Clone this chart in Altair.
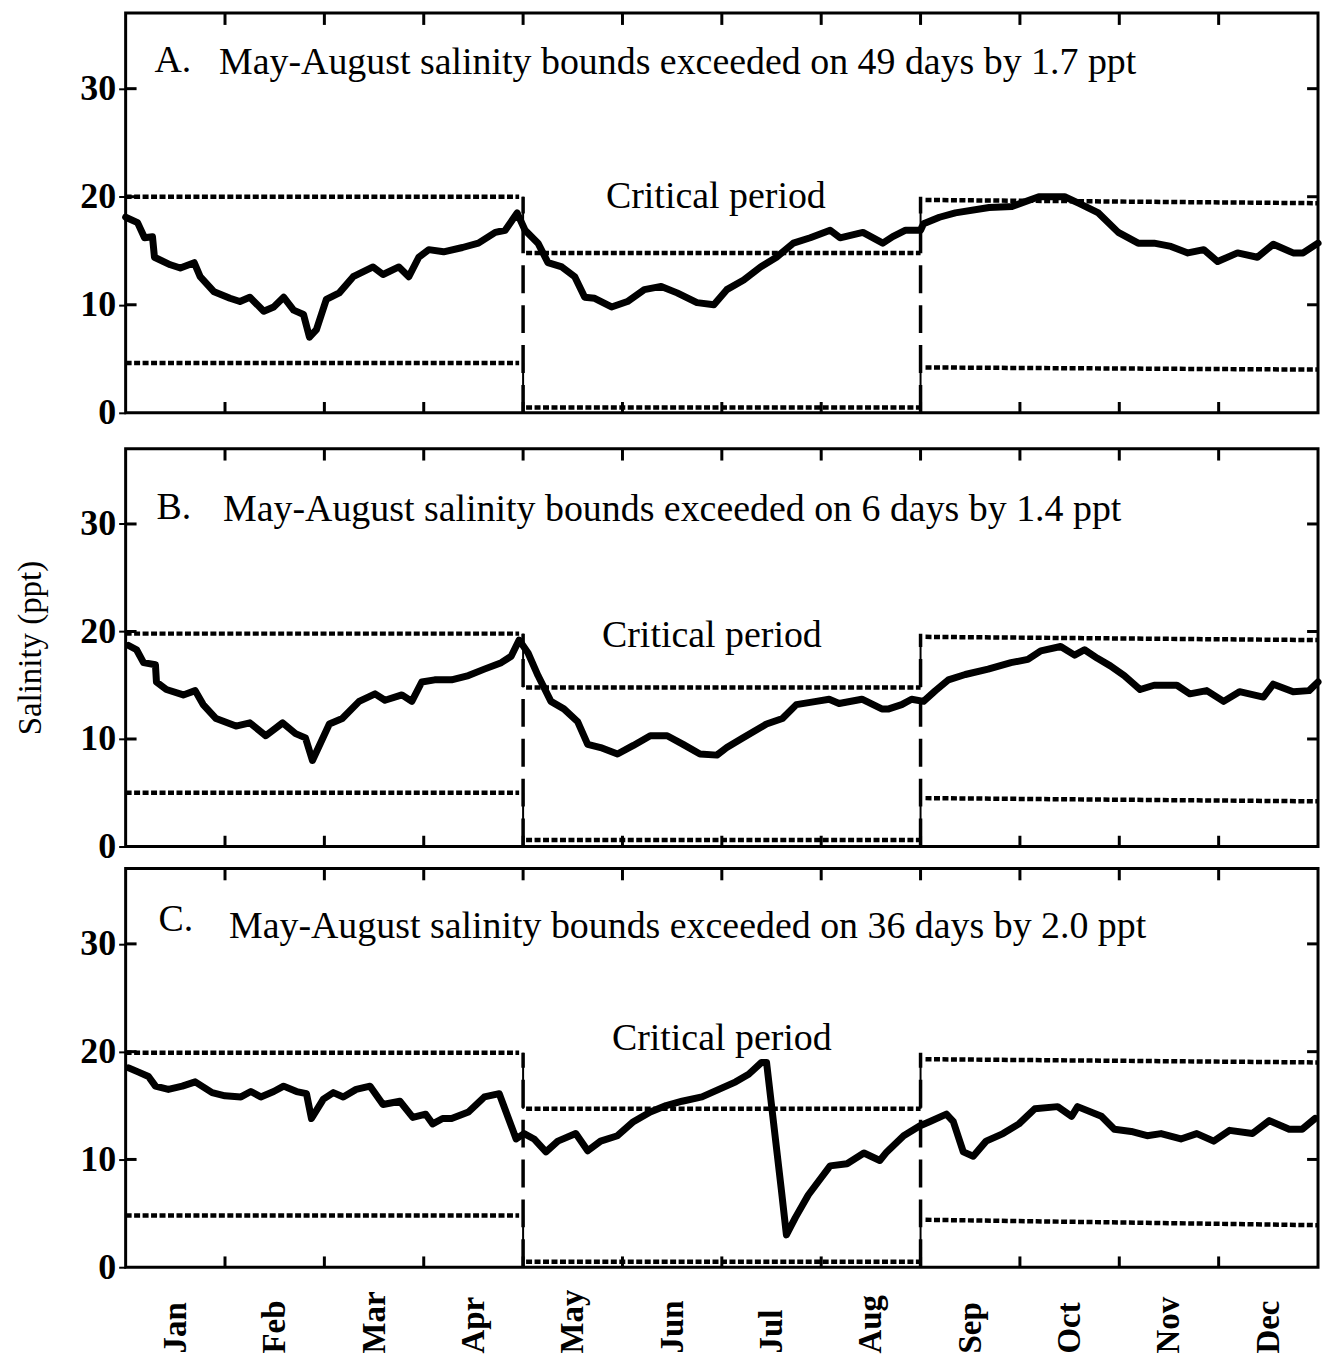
import json
import altair as alt
import pandas as pd

# ---------------- data ----------------
MONTHS = ["Jan", "Feb", "Mar", "Apr", "May", "Jun", "Jul", "Aug", "Sep", "Oct", "Nov", "Dec"]
MONTH_CENTERS = [0.5, 1.5, 2.5, 3.5, 4.5, 5.5, 6.5, 7.5, 8.5, 9.5, 10.5, 11.5]
MONTH_BOUNDARIES = [1, 2, 3, 4, 5, 6, 7, 8, 9, 10, 11]
Y_TICKS = [0, 10, 20, 30]
INNER_Y_TICKS = [10, 20, 30]
CRITICAL_START = 4
CRITICAL_END = 8

# x = months since 1 Jan, y = salinity (ppt)
A_X = [0.0, 0.12, 0.19, 0.27, 0.29, 0.45, 0.55, 0.69, 0.75, 0.89, 1.05, 1.15, 1.25, 1.39, 1.49,
       1.59, 1.69, 1.79, 1.85, 1.92, 2.02, 2.15, 2.29, 2.49, 2.59, 2.75, 2.85, 2.95, 3.05, 3.2,
       3.39, 3.55, 3.72, 3.82, 3.94, 4.02, 4.15, 4.25, 4.39, 4.52, 4.62, 4.72, 4.89, 5.05, 5.22,
       5.39, 5.55, 5.75, 5.92, 6.05, 6.22, 6.39, 6.55, 6.72, 6.89, 7.09, 7.19, 7.42, 7.62, 7.72,
       7.85, 8.0, 8.03, 8.19, 8.35, 8.69, 8.92, 9.19, 9.45, 9.59, 9.79, 9.99, 10.19, 10.35, 10.52,
       10.69, 10.85, 10.99, 11.19, 11.39, 11.55, 11.75, 11.85, 12.0]
A_Y = [18.1, 17.6, 16.2, 16.3, 14.4, 13.7, 13.4, 13.9, 12.6, 11.2, 10.6, 10.3, 10.7, 9.4, 9.8,
       10.7, 9.5, 9.1, 7.0, 7.7, 10.5, 11.1, 12.6, 13.5, 12.8, 13.5, 12.6, 14.4, 15.1, 14.9,
       15.3, 15.7, 16.7, 16.9, 18.5, 16.9, 15.7, 13.9, 13.5, 12.6, 10.7, 10.6, 9.8, 10.3, 11.4,
       11.7, 11.1, 10.2, 10.0, 11.4, 12.3, 13.5, 14.4, 15.7, 16.2, 16.9, 16.2, 16.7, 15.7, 16.3,
       16.9, 16.9, 17.5, 18.1, 18.5, 19.0, 19.1, 20.0, 20.0, 19.4, 18.5, 16.7, 15.7, 15.7, 15.4,
       14.8, 15.1, 14.0, 14.8, 14.4, 15.6, 14.8, 14.8, 15.7]

B_X = [0.03, 0.11, 0.18, 0.30, 0.31, 0.41, 0.58, 0.70, 0.78, 0.91, 1.11, 1.25, 1.41, 1.58, 1.71,
       1.81, 1.88, 2.05, 2.18, 2.35, 2.51, 2.61, 2.78, 2.88, 2.98, 3.11, 3.28, 3.45, 3.61, 3.78,
       3.88, 3.96, 4.05, 4.15, 4.28, 4.41, 4.55, 4.65, 4.78, 4.95, 5.11, 5.28, 5.45, 5.61, 5.78,
       5.95, 6.05, 6.21, 6.45, 6.61, 6.75, 6.95, 7.08, 7.18, 7.41, 7.61, 7.68, 7.81, 7.91, 8.03,
       8.15, 8.28, 8.45, 8.68, 8.91, 9.08, 9.21, 9.41, 9.55, 9.65, 9.78, 9.91, 10.05, 10.21, 10.35,
       10.58, 10.71, 10.88, 11.05, 11.21, 11.45, 11.55, 11.75, 11.91, 12.0]
B_Y = [18.7, 18.3, 17.1, 16.9, 15.3, 14.6, 14.1, 14.5, 13.2, 11.9, 11.2, 11.5, 10.3, 11.5, 10.5,
       10.1, 8.0, 11.4, 11.9, 13.5, 14.2, 13.6, 14.1, 13.5, 15.3, 15.5, 15.5, 15.9, 16.5, 17.1,
       17.7, 19.2, 18.0, 15.9, 13.5, 12.8, 11.6, 9.5, 9.2, 8.6, 9.4, 10.3, 10.3, 9.5, 8.6,
       8.5, 9.2, 10.1, 11.4, 11.9, 13.2, 13.5, 13.7, 13.3, 13.7, 12.8, 12.8, 13.2, 13.7, 13.5,
       14.5, 15.5, 16.0, 16.5, 17.1, 17.4, 18.2, 18.6, 17.8, 18.3, 17.5, 16.8, 15.9, 14.6, 15.0,
       15.0, 14.2, 14.5, 13.5, 14.4, 13.9, 15.1, 14.4, 14.5, 15.3]

C_X = [0.03, 0.13, 0.23, 0.30, 0.43, 0.57, 0.70, 0.87, 1.0, 1.16, 1.26, 1.36, 1.49, 1.59, 1.72,
       1.82, 1.87, 1.99, 2.09, 2.19, 2.32, 2.46, 2.59, 2.76, 2.89, 3.02, 3.09, 3.19, 3.28, 3.45,
       3.61, 3.76, 3.93, 4.01, 4.11, 4.23, 4.35, 4.53, 4.65, 4.78, 4.95, 5.11, 5.28, 5.44, 5.60,
       5.80, 5.97, 6.14, 6.27, 6.40, 6.45, 6.60, 6.65, 6.74, 6.87, 7.00, 7.09, 7.26, 7.43, 7.59,
       7.66, 7.83, 7.99, 8.09, 8.26, 8.33, 8.43, 8.53, 8.66, 8.83, 8.99, 9.15, 9.38, 9.52, 9.58,
       9.82, 9.95, 10.12, 10.28, 10.42, 10.62, 10.78, 10.95, 11.11, 11.34, 11.51, 11.71, 11.84, 11.97]
C_Y = [18.5, 18.1, 17.7, 16.8, 16.5, 16.8, 17.2, 16.2, 15.9, 15.8, 16.3, 15.8, 16.3, 16.8, 16.3,
       16.1, 13.8, 15.6, 16.2, 15.8, 16.5, 16.8, 15.1, 15.4, 13.9, 14.2, 13.3, 13.8, 13.8, 14.4,
       15.8, 16.1, 11.9, 12.4, 11.9, 10.7, 11.7, 12.4, 10.8, 11.7, 12.2, 13.5, 14.4, 15.0, 15.4,
       15.8, 16.5, 17.2, 17.9, 19.0, 19.0, 7.1, 3.0, 4.6, 6.7, 8.3, 9.4, 9.6, 10.6, 9.9,
       10.7, 12.2, 13.1, 13.5, 14.2, 13.5, 10.7, 10.3, 11.7, 12.4, 13.3, 14.7, 14.9, 14.0, 14.9,
       14.0, 12.8, 12.6, 12.2, 12.4, 11.9, 12.4, 11.7, 12.7, 12.4, 13.6, 12.8, 12.8, 13.8]

# salinity bounds per period (Jan-Apr, May-Aug, Sep-Dec): value at start and end of period
PERIOD_START = [0.0, 4.03, 8.05]
PERIOD_END = [3.96, 8.0, 12.0]
A_UPPER_START = [20.0, 14.8, 19.7]
A_UPPER_END = [20.0, 14.8, 19.4]
A_LOWER_START = [4.6, 0.5, 4.2]
A_LOWER_END = [4.6, 0.5, 4.0]
B_UPPER_START = [19.8, 14.8, 19.5]
B_UPPER_END = [19.8, 14.8, 19.2]
B_LOWER_START = [5.0, 0.6, 4.5]
B_LOWER_END = [5.0, 0.6, 4.2]
C_UPPER_START = [19.9, 14.7, 19.3]
C_UPPER_END = [19.9, 14.7, 19.0]
C_LOWER_START = [4.8, 0.5, 4.4]
C_LOWER_END = [4.8, 0.5, 3.9]

A_LETTER = "A."
B_LETTER = "B."
C_LETTER = "C."
A_TEXT = "May-August salinity bounds exceeded on 49 days by 1.7 ppt"
B_TEXT = "May-August salinity bounds exceeded on 6 days by 1.4 ppt"
C_TEXT = "May-August salinity bounds exceeded on 36 days by 2.0 ppt"
CRIT_TEXT = "Critical period"
Y_TITLE = "Salinity (ppt)"

# annotation anchors (data coordinates)
A_LETTER_POS = (0.29, 31.5)
B_LETTER_POS = (0.31, 30.5)
C_LETTER_POS = (0.33, 31.2)
A_TEXT_POS = (0.94, 31.4)
B_TEXT_POS = (0.98, 30.3)
C_TEXT_POS = (1.04, 30.5)
A_CRIT_POS = (5.94, 19.0)
B_CRIT_POS = (5.90, 18.6)
C_CRIT_POS = (6.0, 20.2)

SERIF = "Liberation Serif"
Y_MAX = 37


def panel(xs, ys, up_s, up_e, lo_s, lo_e, letter, letter_pos, text, text_pos,
          crit_pos, show_title, bottom, height):
    xsc = alt.Scale(domain=[0, 12], nice=False, zero=False)
    ysc = alt.Scale(domain=[0, Y_MAX], nice=False, zero=False)

    if bottom:
        x_axis = alt.Axis(
            values=MONTH_CENTERS,
            labelExpr=json.dumps(MONTHS) + "[floor(datum.value)]",
            labelAngle=-90, labelAlign="left", labelBaseline="middle",
            labelPadding=86, labelFont=SERIF, labelFontSize=33, labelFontWeight="bold",
            labelColor="black", labelOverlap=False, labelFlush=False,
            ticks=False, domain=False, grid=False, title=None,
        )
    else:
        x_axis = None

    y_axis = alt.Axis(
        values=Y_TICKS, format="d", labelFont=SERIF, labelFontSize=36, labelFontWeight="bold",
        labelColor="black", labelPadding=3, ticks=True, tickSize=7, tickWidth=2,
        tickColor="black", domain=False, grid=False, title=Y_TITLE, titleFont=SERIF,
        titleFontSize=33, titleFontWeight="normal", titleColor="black", titlePadding=32,
        titleOpacity=1 if show_title else 0,
    )

    def xe(field):
        return alt.X(field, scale=xsc, axis=x_axis)

    def ye(field):
        return alt.Y(field, scale=ysc, axis=y_axis)

    sal = pd.DataFrame({"m": xs, "s": ys, "i": list(range(len(xs)))})
    line = alt.Chart(sal).mark_line(
        color="black", strokeWidth=7, strokeJoin="round", strokeCap="round"
    ).encode(x=xe("m:Q"), y=ye("s:Q"), order="i:Q")

    rows = []
    for k in range(3):
        rows.append({"x0": PERIOD_START[k], "x1": PERIOD_END[k], "y0": up_s[k], "y1": up_e[k]})
        rows.append({"x0": PERIOD_START[k], "x1": PERIOD_END[k], "y0": lo_s[k], "y1": lo_e[k]})
    bounds = alt.Chart(pd.DataFrame(rows)).mark_rule(
        color="black", strokeWidth=4.5, strokeDash=[6, 2.5]
    ).encode(x=xe("x0:Q"), x2="x1:Q", y=ye("y0:Q"), y2="y1:Q")

    conn_rows = []
    for k, bx in enumerate([CRITICAL_START, CRITICAL_END]):
        conn_rows.append({"x": bx, "y0": up_e[k], "y1": up_s[k + 1]})
        conn_rows.append({"x": bx, "y0": lo_e[k], "y1": lo_s[k + 1]})
    conn = alt.Chart(pd.DataFrame(conn_rows)).mark_rule(color="black", strokeWidth=2).encode(
        x=xe("x:Q"), y=ye("y0:Q"), y2="y1:Q"
    )

    crit = alt.Chart(pd.DataFrame({
        "x": [CRITICAL_START, CRITICAL_END], "y0": [0, 0], "y1": [up_s[0], up_s[0]]
    })).mark_rule(color="black", strokeWidth=3.5, strokeDash=[28, 12]).encode(
        x=xe("x:Q"), y=ye("y0:Q"), y2="y1:Q"
    )

    tick_rows = []
    for b in MONTH_BOUNDARIES:
        tick_rows.append({"x0": b, "x1": b, "y0": 0, "y1": 1.0})
        tick_rows.append({"x0": b, "x1": b, "y0": Y_MAX - 1.1, "y1": Y_MAX})
    for t in INNER_Y_TICKS:
        tick_rows.append({"x0": 0, "x1": 0.11, "y0": t, "y1": t})
        tick_rows.append({"x0": 11.89, "x1": 12, "y0": t, "y1": t})
    ticks = alt.Chart(pd.DataFrame(tick_rows)).mark_rule(color="black", strokeWidth=3).encode(
        x=xe("x0:Q"), x2="x1:Q", y=ye("y0:Q"), y2="y1:Q"
    )

    left_text = alt.Chart(pd.DataFrame({
        "x": [letter_pos[0], text_pos[0]], "y": [letter_pos[1], text_pos[1]], "t": [letter, text]
    })).mark_text(
        font=SERIF, fontSize=38, align="left", baseline="alphabetic", color="black"
    ).encode(x=xe("x:Q"), y=ye("y:Q"), text="t:N")

    crit_text = alt.Chart(pd.DataFrame({
        "x": [crit_pos[0]], "y": [crit_pos[1]], "t": [CRIT_TEXT]
    })).mark_text(
        font=SERIF, fontSize=38, align="center", baseline="alphabetic", color="black"
    ).encode(x=xe("x:Q"), y=ye("y:Q"), text="t:N")

    return alt.layer(line, bounds, conn, crit, ticks, left_text, crit_text).properties(
        width=1196, height=height
    )


pa = panel(A_X, A_Y, A_UPPER_START, A_UPPER_END, A_LOWER_START, A_LOWER_END,
           A_LETTER, A_LETTER_POS, A_TEXT, A_TEXT_POS, A_CRIT_POS, False, False, 401)
pb = panel(B_X, B_Y, B_UPPER_START, B_UPPER_END, B_LOWER_START, B_LOWER_END,
           B_LETTER, B_LETTER_POS, B_TEXT, B_TEXT_POS, B_CRIT_POS, True, False, 399)
pc = panel(C_X, C_Y, C_UPPER_START, C_UPPER_END, C_LOWER_START, C_LOWER_END,
           C_LETTER, C_LETTER_POS, C_TEXT, C_TEXT_POS, C_CRIT_POS, False, True, 400)

inner = alt.vconcat(pb, pc, spacing=22, bounds="flush")
chart = alt.vconcat(pa, inner, spacing=36, bounds="flush").properties(
    padding={"left": 5, "top": 0, "right": 0, "bottom": 0},
    background="white",
).configure_view(
    stroke="black", strokeWidth=3
)

chart.save("out.html", embed_options={"renderer": "svg", "actions": False})
